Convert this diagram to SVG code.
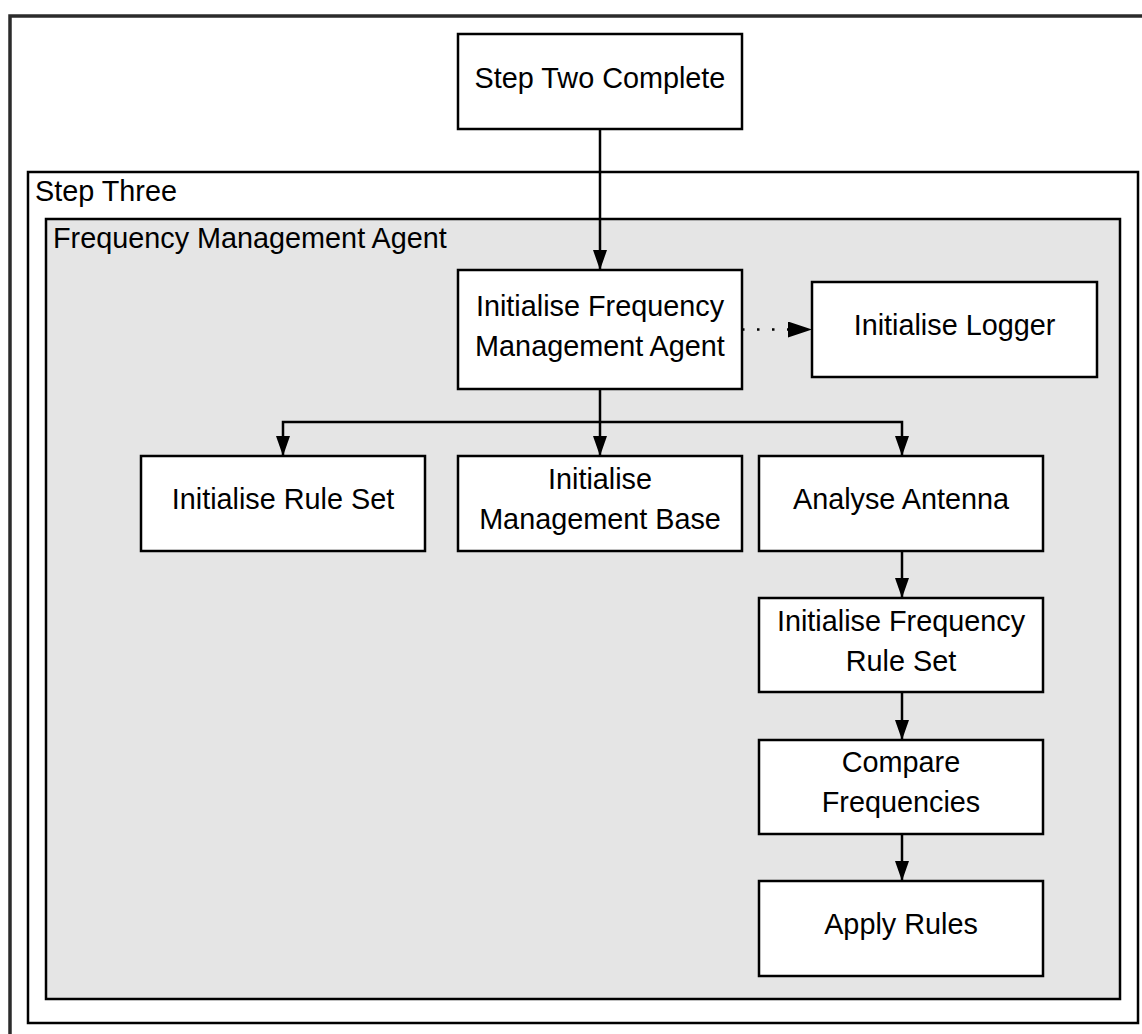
<svg xmlns="http://www.w3.org/2000/svg" width="1142" height="1034" viewBox="0 0 1142 1034">
  <style>
    .node rect { fill: #ffffff; stroke: #000000; stroke-width: 2.5; }
    .lbl { font-family: "Liberation Sans", Arial, sans-serif; font-size: 28.8px; fill: #000000; }
    .c { text-anchor: middle; }
    .edge { fill: none; stroke: #000000; stroke-width: 2.5; }
    .dotted { stroke-dasharray: 2.5 12.5; stroke-linecap: butt; }
  </style>
  <defs>
    <marker id="arrow" markerUnits="userSpaceOnUse" markerWidth="20" markerHeight="14" refX="20" refY="7" orient="auto">
      <path d="M0,0 L20,7 L0,14 Z" fill="#000000"/>
    </marker>
    <marker id="arrowBig" markerUnits="userSpaceOnUse" markerWidth="24" markerHeight="16" refX="24" refY="8" orient="auto">
      <path d="M0,0 L24,8 L0,16 Z" fill="#000000"/>
    </marker>
  </defs>

  <rect width="1142" height="1034" fill="#ffffff"/>

  <!-- outer frame, running past the page edges -->
  <rect x="10" y="16" width="1160" height="1060" fill="#ffffff" stroke="#2b2b2b" stroke-width="3.5"/>

  <!-- Step Three container -->
  <g id="step-three">
    <rect x="28" y="172" width="1110" height="851" fill="#ffffff" stroke="#000000" stroke-width="2.5"/>
    <text class="lbl" x="35" y="201">Step Three</text>
  </g>

  <!-- Frequency Management Agent container -->
  <g id="fma-container">
    <rect x="46" y="219" width="1074" height="780" fill="#e5e5e5" stroke="#000000" stroke-width="2.5"/>
    <text class="lbl" x="53" y="248">Frequency Management Agent</text>
  </g>

  <!-- connectors -->
  <g id="connectors">
    <path class="edge" d="M600,129 L600,270" marker-end="url(#arrow)"/>
    <path class="edge dotted" d="M742,329.5 L812,329.5" marker-end="url(#arrowBig)"/>
    <path class="edge" d="M600,389 L600,456" marker-end="url(#arrow)"/>
    <path class="edge" d="M600,422 L283,422 L283,456" marker-end="url(#arrow)"/>
    <path class="edge" d="M600,422 L902,422 L902,456" marker-end="url(#arrow)"/>
    <path class="edge" d="M902,551 L902,598" marker-end="url(#arrow)"/>
    <path class="edge" d="M902,692 L902,740" marker-end="url(#arrow)"/>
    <path class="edge" d="M902,834 L902,881" marker-end="url(#arrow)"/>
  </g>

  <g id="step-two-complete" class="node">
    <rect x="458" y="34" width="284" height="95"/>
    <text class="lbl c" x="600" y="88">Step Two Complete</text>
  </g>

  <g id="init-fma" class="node">
    <rect x="458" y="270" width="284" height="119"/>
    <text class="lbl c" x="600" y="316">Initialise Frequency</text>
    <text class="lbl c" x="600" y="356">Management Agent</text>
  </g>

  <g id="init-logger" class="node">
    <rect x="812" y="282" width="285" height="95"/>
    <text class="lbl c" x="954.5" y="335">Initialise Logger</text>
  </g>

  <g id="init-rule-set" class="node">
    <rect x="141" y="456" width="284" height="95"/>
    <text class="lbl c" x="283" y="509">Initialise Rule Set</text>
  </g>

  <g id="init-management-base" class="node">
    <rect x="458" y="456" width="284" height="95"/>
    <text class="lbl c" x="600" y="489">Initialise</text>
    <text class="lbl c" x="600" y="529">Management Base</text>
  </g>

  <g id="analyse-antenna" class="node">
    <rect x="759" y="456" width="284" height="95"/>
    <text class="lbl c" x="901" y="509">Analyse Antenna</text>
  </g>

  <g id="init-frequency-rule-set" class="node">
    <rect x="759" y="598" width="284" height="94"/>
    <text class="lbl c" x="901" y="631">Initialise Frequency</text>
    <text class="lbl c" x="901" y="671">Rule Set</text>
  </g>

  <g id="compare-frequencies" class="node">
    <rect x="759" y="740" width="284" height="94"/>
    <text class="lbl c" x="901" y="772">Compare</text>
    <text class="lbl c" x="901" y="812">Frequencies</text>
  </g>

  <g id="apply-rules" class="node">
    <rect x="759" y="881" width="284" height="95"/>
    <text class="lbl c" x="901" y="934">Apply Rules</text>
  </g>
</svg>
